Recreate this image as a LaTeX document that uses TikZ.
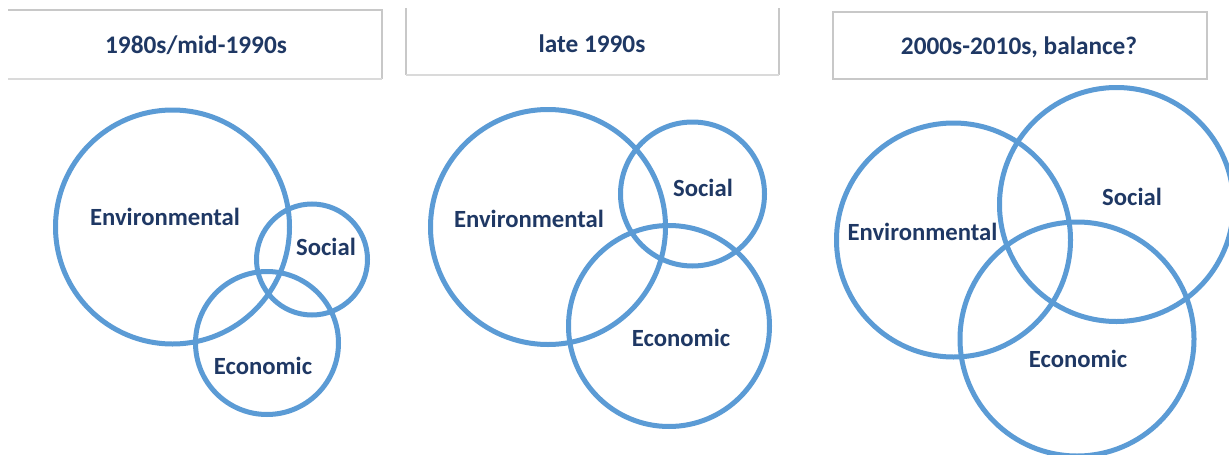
\documentclass[tikz,border=0pt]{standalone}
\usepackage{fontspec}
\setmainfont{Carlito}
\definecolor{ringblue}{RGB}{91,155,213}
\definecolor{navytext}{RGB}{31,56,100}
\definecolor{boxgrey}{RGB}{200,200,200}
\definecolor{boxgreylight}{RGB}{218,218,218}
\begin{document}
\begin{tikzpicture}[x=1pt,y=-1pt,
  ring/.style={circle,draw=ringblue,line width=5pt,inner sep=0pt,outer sep=0pt,minimum size=#1},
  lbl/.style={anchor=base,inner sep=0pt,text=navytext,font=\fontsize{24.7}{30}\selectfont\bfseries},
  hdr/.style={anchor=base,inner sep=0pt,text=navytext,font=\fontsize{25.3}{30}\selectfont\bfseries},
  frame/.style={draw=boxgrey,line width=1.2pt},
  framelight/.style={draw=boxgreylight,line width=1.2pt}]
\useasboundingbox (0,0) rectangle (1229,455);
\clip (0,0) rectangle (1229,455);
\fill[white] (0,0) rectangle (1229,455);

% header frames
\coordinate (b1tl) at (8,10);
\coordinate (b1tr) at (382,10);
\coordinate (b1br) at (382,79);
\coordinate (b1bl) at (8,79);
\draw[frame] (b1tl) -- (b1tr) -- (b1br);
\draw[framelight] (b1br) -- (b1bl);

\coordinate (b2tl) at (406,8);
\coordinate (b2tr) at (779,8);
\coordinate (b2br) at (779,75);
\coordinate (b2bl) at (406,75);
\draw[frame] (b2tl) -- (b2bl);
\draw[frame] (b2tr) -- (b2br);
\draw[framelight] (b2bl) -- (b2br);

\coordinate (b3tl) at (833,12);
\coordinate (b3br) at (1207,79);
\draw[frame] (b3tl) rectangle (b3br);

\node[hdr] (h1) at (196,53) {1980s/mid-1990s};
\node[hdr] (h2) at (592,52) {late 1990s};
\node[hdr] (h3) at (1019,54) {2000s-2010s, balance?};

% panel 1
\node[ring=234pt] (env1) at (172.5,227) {};
\node[ring=111pt] (soc1) at (312,259.5) {};
\node[ring=143pt] (eco1) at (267,343) {};
\node[lbl] (tenv1) at (165,225) {Environmental};
\node[lbl] (tsoc1) at (326,255) {Social};
\node[lbl] (teco1) at (263,374) {Economic};

% panel 2
\node[ring=235pt] (env2) at (548,227) {};
\node[ring=144pt] (soc2) at (692.5,194) {};
\node[ring=201pt] (eco2) at (669,326) {};
\node[lbl] (tenv2) at (529,227) {Environmental};
\node[lbl] (tsoc2) at (703,196) {Social};
\node[lbl] (teco2) at (681,346) {Economic};

% panel 3
\node[ring=234pt] (env3) at (953.5,240) {};
\node[ring=234pt] (soc3) at (1116.5,204.5) {};
\node[ring=234pt] (eco3) at (1077,339) {};
\node[lbl] (tenv3) at (922.5,240) {Environmental};
\node[lbl] (tsoc3) at (1132,205) {Social};
\node[lbl] (teco3) at (1078,367) {Economic};
\end{tikzpicture}
\end{document}
